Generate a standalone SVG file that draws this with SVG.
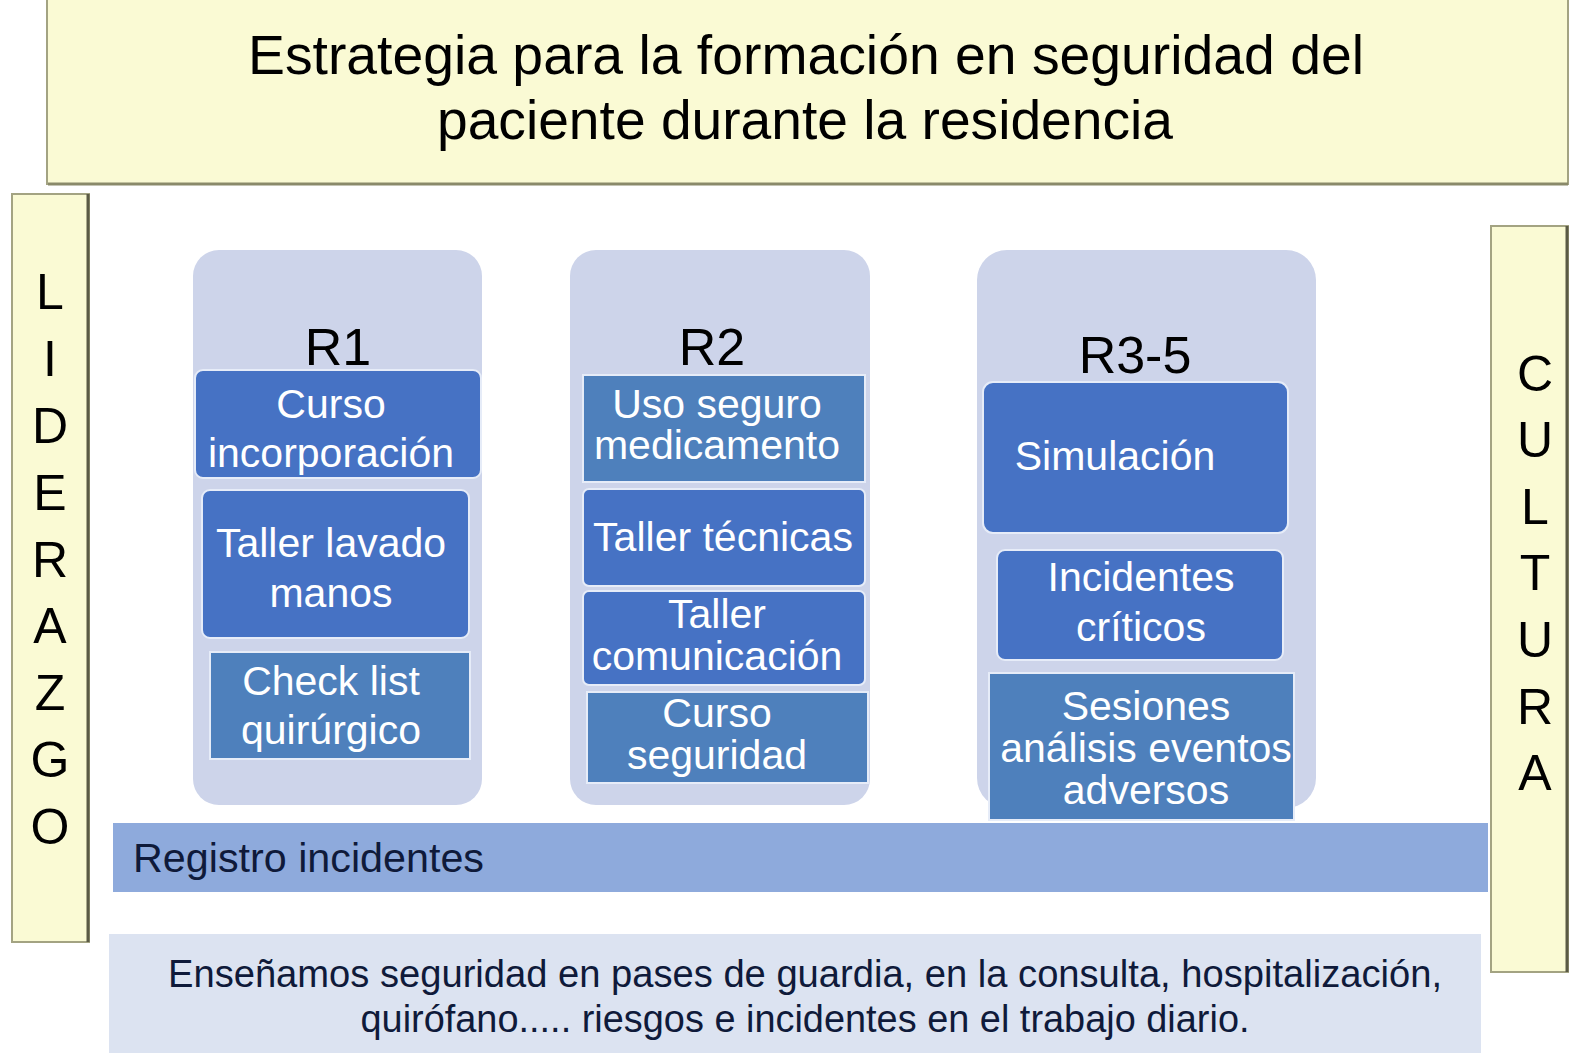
<svg xmlns="http://www.w3.org/2000/svg" width="1583" height="1060" viewBox="0 0 1583 1060">
<defs>
<style>
.t{font-family:"Liberation Sans",Arial,sans-serif;}
.bar{fill:#fafad4;stroke:#a3a382;stroke-width:2;}
.col{fill:#cdd4ea;}
.bb{fill:#4672c4;stroke:#e6ecf8;stroke-width:2;}
.sb{fill:#4e80bc;stroke:#e6ecf8;stroke-width:2;}
.wt{fill:#ffffff;font-size:41px;text-anchor:middle;}
.hd{fill:#000000;font-size:52px;text-anchor:middle;}
.vl{fill:#000000;font-size:50px;text-anchor:middle;}
</style>
</defs>
<rect width="1583" height="1060" fill="#ffffff"/>

<g id="title">
<rect class="bar" x="47" y="-4" width="1521" height="188"/>
<line x1="48" y1="184" x2="1568" y2="184" stroke="#8a8a6a" stroke-width="3"/>
<text class="t" x="806" y="74" font-size="55" text-anchor="middle" fill="#000" textLength="1116" lengthAdjust="spacingAndGlyphs">Estrategia para la formación en seguridad del</text>
<text class="t" x="805" y="139" font-size="55" text-anchor="middle" fill="#000" textLength="736" lengthAdjust="spacingAndGlyphs">paciente durante la residencia</text>
</g>

<g id="liderazgo">
<rect class="bar" x="12" y="194" width="77" height="748"/>
<line x1="88" y1="194" x2="88" y2="942" stroke="#5a5a45" stroke-width="3"/>
<text class="t vl" x="50" y="309">L</text>
<text class="t vl" x="50" y="376">I</text>
<text class="t vl" x="50" y="443">D</text>
<text class="t vl" x="50" y="510">E</text>
<text class="t vl" x="50" y="577">R</text>
<text class="t vl" x="50" y="643">A</text>
<text class="t vl" x="50" y="710">Z</text>
<text class="t vl" x="50" y="777">G</text>
<text class="t vl" x="50" y="844">O</text>
</g>

<g id="cultura">
<rect class="bar" x="1491" y="226" width="77" height="746"/>
<line x1="1567" y1="226" x2="1567" y2="972" stroke="#5a5a45" stroke-width="3"/>
<text class="t vl" x="1535" y="391">C</text>
<text class="t vl" x="1535" y="457">U</text>
<text class="t vl" x="1535" y="524">L</text>
<text class="t vl" x="1535" y="590">T</text>
<text class="t vl" x="1535" y="657">U</text>
<text class="t vl" x="1535" y="724">R</text>
<text class="t vl" x="1535" y="790">A</text>
</g>

<g id="col-r1">
<rect class="col" x="193" y="250" width="289" height="555" rx="26"/>
<text class="t hd" x="338" y="365">R1</text>
</g>
<g id="col-r2">
<rect class="col" x="570" y="250" width="300" height="555" rx="26"/>
<text class="t hd" x="712" y="365">R2</text>
</g>
<g id="col-r3">
<rect class="col" x="977" y="250" width="339" height="558" rx="30"/>
<text class="t hd" x="1135" y="373">R3-5</text>
</g>

<g id="r1-curso">
<rect class="bb" x="195" y="370" width="286" height="108" rx="8"/>
<text class="t wt" x="331" y="418">Curso</text>
<text class="t wt" x="331" y="467">incorporación</text>
</g>
<g id="r1-taller">
<rect class="bb" x="202" y="490" width="267" height="148" rx="8"/>
<text class="t wt" x="331" y="557">Taller lavado</text>
<text class="t wt" x="331" y="607">manos</text>
</g>
<g id="r1-check">
<rect class="sb" x="210" y="652" width="260" height="107"/>
<text class="t wt" x="331" y="695">Check list</text>
<text class="t wt" x="331" y="744">quirúrgico</text>
</g>

<g id="r2-uso">
<rect class="sb" x="583" y="375" width="282" height="107"/>
<text class="t wt" x="717" y="418">Uso seguro</text>
<text class="t wt" x="717" y="459">medicamento</text>
</g>
<g id="r2-tecnicas">
<rect class="bb" x="583" y="489" width="282" height="97" rx="6"/>
<text class="t wt" x="723" y="551">Taller técnicas</text>
</g>
<g id="r2-comunicacion">
<rect class="bb" x="583" y="591" width="282" height="94" rx="6"/>
<text class="t wt" x="717" y="628">Taller</text>
<text class="t wt" x="717" y="670">comunicación</text>
</g>
<g id="r2-curso">
<rect class="sb" x="587" y="692" width="281" height="91"/>
<text class="t wt" x="717" y="727">Curso</text>
<text class="t wt" x="717" y="769">seguridad</text>
</g>

<g id="r3-simulacion">
<rect class="bb" x="983" y="382" width="305" height="151" rx="10"/>
<text class="t wt" x="1115" y="470">Simulación</text>
</g>
<g id="r3-incidentes">
<rect class="bb" x="997" y="550" width="286" height="110" rx="8"/>
<text class="t wt" x="1141" y="591">Incidentes</text>
<text class="t wt" x="1141" y="641">críticos</text>
</g>
<g id="r3-sesiones">
<rect class="sb" x="989" y="673" width="305" height="147"/>
<text class="t wt" x="1146" y="720">Sesiones</text>
<text class="t wt" x="1146" y="762">análisis eventos</text>
<text class="t wt" x="1146" y="804">adversos</text>
</g>

<g id="registro">
<rect x="113" y="823" width="1375" height="69" fill="#8eaadc"/>
<text class="t" x="133" y="872" font-size="41" fill="#0f1a3a" textLength="351" lengthAdjust="spacingAndGlyphs">Registro incidentes</text>
</g>

<g id="nota">
<rect x="109" y="934" width="1372" height="119" fill="#dce3f1"/>
<text class="t" x="805" y="987" font-size="38" text-anchor="middle" fill="#0f1a3a" textLength="1274" lengthAdjust="spacingAndGlyphs">Enseñamos seguridad en pases de guardia, en la consulta, hospitalización,</text>
<text class="t" x="805" y="1032" font-size="38" text-anchor="middle" fill="#0f1a3a" textLength="889" lengthAdjust="spacingAndGlyphs">quirófano..... riesgos e incidentes en el trabajo diario.</text>
</g>

<g id="connectors"></g>
</svg>
